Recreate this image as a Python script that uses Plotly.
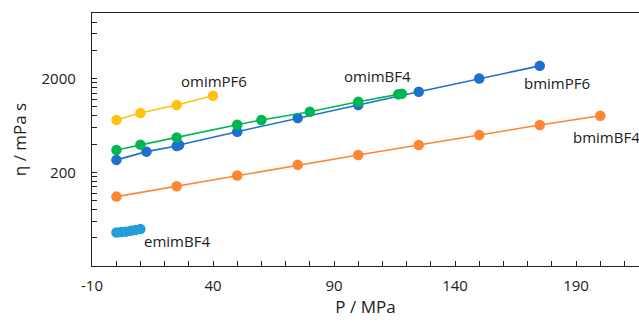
import plotly.graph_objects as go
import math

# ---- data ----
emim_BF4_P = [0.1, 2, 4, 6, 8, 10]
emim_BF4_eta = [45.5, 46, 46.5, 47.5, 48.5, 49.5]

omim_PF6_P = [0.1, 10, 25, 40]
omim_PF6_eta = [721, 857, 1042, 1309]

omim_BF4_P = [0.1, 10, 25, 50, 60, 80, 100, 116.5, 118]
omim_BF4_eta = [346, 394, 471, 643, 722, 885, 1130, 1355, 1375]

bmim_PF6_P = [0.1, 12.5, 25, 26, 50, 75, 100, 125, 150, 175]
bmim_PF6_eta = [271, 332, 382, 390, 542, 758, 1045, 1444, 2000, 2729]

bmim_BF4_P = [0.1, 25, 50, 75, 100, 125, 150, 175, 200]
bmim_BF4_eta = [110, 142, 184.5, 240, 306, 391, 500, 638, 802]

x_tick_vals = [-10, 40, 90, 140, 190]
y_tick_vals = [200, 2000]
y_minor_vals = [40, 60, 80, 100, 120, 140, 160, 180,
                400, 600, 800, 1000, 1200, 1400, 1600, 1800,
                4000, 6000, 8000]

series = [
    ("emimBF4", emim_BF4_P, emim_BF4_eta, "#239EDB"),
    ("bmimBF4", bmim_BF4_P, bmim_BF4_eta, "#FF8533"),
    ("bmimPF6", bmim_PF6_P, bmim_PF6_eta, "#1F6FD0"),
    ("omimBF4", omim_BF4_P, omim_BF4_eta, "#00B650"),
    ("omimPF6", omim_PF6_P, omim_PF6_eta, "#FFC20E"),
]

FONT = "Open Sans"
fig = go.Figure()
for name, xs, ys, col in series:
    fig.add_trace(go.Scatter(
        x=xs, y=ys, mode="lines+markers", name=name,
        line=dict(color=col, width=1.6),
        marker=dict(color=col, size=10.5),
        showlegend=False, cliponaxis=False,
    ))

labels = [
    ("omimPF6", 40.2, 3.2765, "center"),
    ("omimBF4", 107.8, 3.330, "center"),
    ("bmimPF6", 182.0, 3.248, "center"),
    ("bmimBF4", 187.8, 2.673, "left"),
    ("emimBF4", 25.1, 1.567, "center"),
]
for txt, lx, ly, anc in labels:
    fig.add_annotation(x=lx, y=ly, text=txt, showarrow=False,
                       xanchor=anc, yanchor="middle",
                       font=dict(family=FONT, size=15, color="#202020"))

axis_font = dict(family=FONT, size=15, color="#202020")
title_font = dict(family=FONT, size=17, color="#202020")
fig.update_xaxes(
    range=[-10, 216], tickvals=x_tick_vals, ticktext=[str(v) for v in x_tick_vals],
    ticks="inside", ticklen=5, tickwidth=1.2, tickcolor="#202020",
    minor=dict(dtick=10, tick0=-10, ticks="inside", ticklen=5, tickwidth=1.2, tickcolor="#202020"),
    showline=True, linecolor="#202020", linewidth=1.3, mirror=True,
    showgrid=False, zeroline=False, tickfont=axis_font, ticklabelstandoff=6,
    title=dict(text="P / MPa", font=title_font, standoff=4),
)
fig.update_yaxes(
    type="log", range=[math.log10(20), 4],
    tickvals=y_tick_vals, ticktext=[str(v) for v in y_tick_vals],
    ticks="inside", ticklen=5, tickwidth=1.2, tickcolor="#202020",
    minor=dict(tickvals=y_minor_vals, ticks="inside", ticklen=5, tickwidth=1.2, tickcolor="#202020", showgrid=False),
    showline=True, linecolor="#202020", linewidth=1.3, mirror=False,
    showgrid=False, zeroline=False, tickfont=axis_font, ticklabelstandoff=12,
    title=dict(text="η / mPa s", font=title_font, standoff=10),
)
fig.update_layout(
    width=639, height=322,
    margin=dict(l=92, r=0, t=13, b=56),
    paper_bgcolor="white", plot_bgcolor="white",
)
fig.write_html("out.html")
